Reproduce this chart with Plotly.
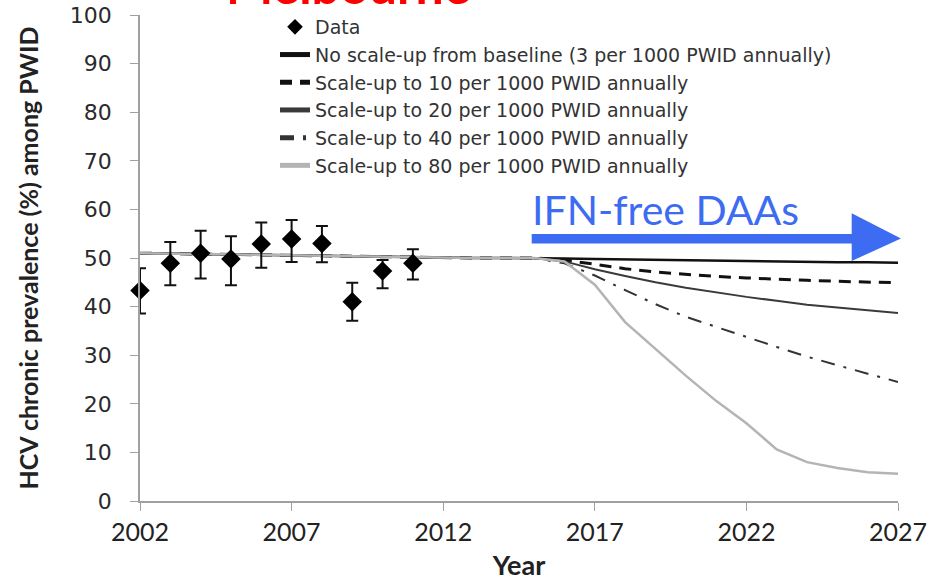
import plotly.graph_objects as go

# ---- data ----
obs_years = [2002, 2003, 2004, 2005, 2006, 2007, 2008, 2009, 2010, 2011]
obs_prev = [43.3, 48.9, 51.0, 49.8, 52.9, 53.9, 53.0, 41.0, 47.3, 48.9]
obs_upper = [47.9, 53.3, 55.6, 54.5, 57.3, 57.8, 56.6, 44.9, 49.6, 51.8]
obs_lower = [38.6, 44.4, 45.8, 44.4, 48.0, 49.2, 49.1, 37.1, 43.8, 45.6]

model_years = list(range(2002, 2028))
baseline_pre = [51.0, 50.9, 50.8, 50.7, 50.6, 50.5, 50.4, 50.3, 50.2, 50.1, 50.1, 50.0, 50.0]  # 2002-2014
s3 = [50.0, 49.9, 49.8, 49.7, 49.6, 49.5, 49.4, 49.3, 49.3, 49.2, 49.1, 49.1, 49.0]   # 2015-2027
s10 = [50.0, 49.6, 48.7, 47.8, 47.1, 46.6, 46.2, 45.9, 45.6, 45.4, 45.2, 45.0, 44.9]
s20 = [50.0, 49.3, 47.7, 46.3, 45.0, 43.9, 42.9, 42.0, 41.2, 40.4, 39.8, 39.2, 38.7]
s40 = [50.0, 48.9, 46.4, 43.4, 40.5, 37.9, 35.8, 33.8, 31.7, 29.7, 27.9, 26.2, 24.5]
s80 = [50.0, 49.3, 44.5, 36.8, 31.3, 25.8, 20.6, 16.0, 10.6, 8.0, 6.8, 5.9, 5.6]

scenario_names = [
    "No scale-up from baseline (3 per 1000 PWID annually)",
    "Scale-up to 10 per 1000 PWID annually",
    "Scale-up to 20 per 1000 PWID annually",
    "Scale-up to 40 per 1000 PWID annually",
    "Scale-up to 80 per 1000 PWID annually",
]
scenario_values = [s3, s10, s20, s40, s80]
x_ticks = [2002, 2007, 2012, 2017, 2022, 2027]
y_ticks = [0, 10, 20, 30, 40, 50, 60, 70, 80, 90, 100]

# ---- styles ----
styles = [
    dict(color="#111111", width=2.5, dash="solid"),
    dict(color="#111111", width=3, dash="12px,8px"),
    dict(color="#3a3a3a", width=2, dash="solid"),
    dict(color="#333333", width=2, dash="14px,9px,3px,9px"),
    dict(color="#b4b4b4", width=2.5, dash="solid"),
]

fig = go.Figure()
for i, (name, vals, st) in enumerate(zip(scenario_names, scenario_values, styles)):
    fig.add_trace(go.Scatter(
        x=model_years, y=baseline_pre + vals, mode="lines", name=name,
        line=st, legendrank=i + 2,
    ))

fig.add_trace(go.Scatter(
    x=obs_years, y=obs_prev, mode="markers", name="Data", cliponaxis=False,
    marker=dict(symbol="diamond", size=15, color="#000000"),
    error_y=dict(type="data", symmetric=False,
                 array=[u - p for u, p in zip(obs_upper, obs_prev)],
                 arrayminus=[p - l for p, l in zip(obs_prev, obs_lower)],
                 color="#111111", thickness=2, width=6),
    legendrank=1,
))

# plot area spans page px x 140-898, y 15-501
PX0, PX1, PY0, PY1 = 140, 898, 15, 501


def px(x):
    return (x - PX0) / (PX1 - PX0)


def py(y):
    return (PY1 - y) / (PY1 - PY0)


blue = "#3d6cf2"
fig.add_shape(type="line", xref="paper", yref="paper", x0=px(531.7), x1=px(853),
              y0=py(238.7), y1=py(238.7), line=dict(color=blue, width=9.5))
fig.add_shape(type="path", xref="paper", yref="paper",
              path=f"M{px(851.7)},{py(213.3)} L{px(901)},{py(238.5)} L{px(851.7)},{py(261)} Z",
              fillcolor=blue, line=dict(color=blue, width=0))

fig.add_annotation(text="IFN-free DAAs", xref="paper", yref="paper",
                   x=px(530), y=py(236), xanchor="left", yanchor="bottom",
                   showarrow=False, font=dict(family="Lato", size=41, color=blue))
fig.add_annotation(text="<b>Melbourne</b>", xref="paper", yref="paper",
                   x=px(348), y=1.0, yshift=-2, xanchor="center", yanchor="bottom",
                   showarrow=False, font=dict(family="Lato", size=50, color="#ff0000"))

fig.update_layout(
    width=945, height=581,
    margin=dict(l=140, r=47, t=15, b=80, autoexpand=False),
    plot_bgcolor="white", paper_bgcolor="white",
    showlegend=True,
    legend=dict(x=px(275), y=py(8), xanchor="left", yanchor="top",
                bgcolor="rgba(0,0,0,0)", tracegroupgap=0, itemsizing="constant",
                font=dict(family="DejaVu Sans", size=19, color="#333333")),
    xaxis=dict(range=[2002, 2027], tickvals=x_ticks, ticktext=[str(t) for t in x_ticks],
               automargin=False,
               showgrid=False, zeroline=False, showline=True, linecolor="#a0a0a0", linewidth=1.5,
               ticks="outside", ticklen=8, tickcolor="#a0a0a0",
               tickfont=dict(family="Lato", size=25, color="#222222"),
               title=dict(text="<b>Year</b>", font=dict(family="Lato", size=27, color="#222222"),
                          standoff=18)),
    yaxis=dict(range=[0, 100], tickvals=y_ticks, automargin=False, ticklabelstandoff=14,
               ticklabeloverflow="allow",
               showgrid=False, zeroline=False, showline=True, linecolor="#a0a0a0", linewidth=1.5,
               ticks="outside", ticklen=8, tickcolor="#a0a0a0",
               tickfont=dict(family="DejaVu Sans", size=22, color="#2a2a2a"),
               title=dict(text="<b>HCV chronic prevalence (%) among PWID</b>",
                          font=dict(family="Lato", size=25, color="#222222"), standoff=24)),
)

fig.write_html("out.html", config={"displayModeBar": False},
               post_script="document.body.style.margin='0px';")
